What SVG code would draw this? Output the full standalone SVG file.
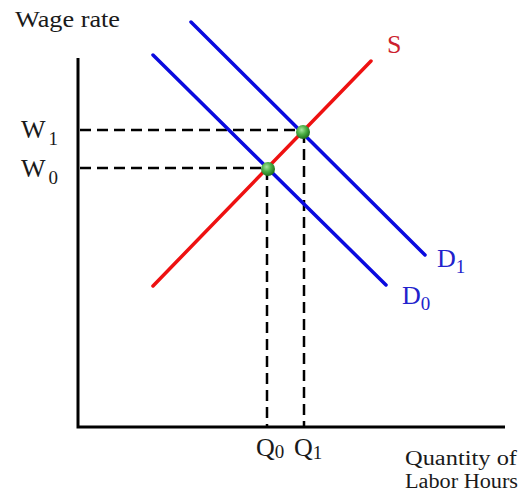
<svg xmlns="http://www.w3.org/2000/svg" width="525" height="494" viewBox="0 0 525 494">
<style>
.t{font-family:"Liberation Serif","Times New Roman",serif;fill:#1a1a1a}
.lb{font-size:26px}
.sub{font-size:19px}
.blue{fill:#2222cc}
.red{fill:#cc1f2f}
.axis{stroke:#000;stroke-width:3;fill:none}
.dash{stroke:#000;stroke-width:2.5;stroke-dasharray:11 6;fill:none}
.sup{stroke:#ee1111;stroke-width:3.5;stroke-linecap:round;fill:none}
.dem{stroke:#0a0adf;stroke-width:3.5;stroke-linecap:round;fill:none}
</style>
<defs>
<radialGradient id="g" cx="40%" cy="35%" r="65%">
<stop offset="0" stop-color="#a8e6a0"/>
<stop offset="0.5" stop-color="#4caf45"/>
<stop offset="1" stop-color="#1f6e1c"/>
</radialGradient>
</defs>
<rect width="525" height="494" fill="#fff"/>
<g id="axes">
<path class="axis" d="M78,58 V427 H505"/>
</g>
<g id="connectors">
<path class="dash" d="M80,130 H303"/>
<path class="dash" d="M80,168 H268"/>
<path class="dash" d="M267,169 V426"/>
<path class="dash" d="M304,132 V426"/>
<path class="sup" d="M153,286 L371,61"/>
<path class="dem" d="M153,55 L386,285"/>
<path class="dem" d="M191,22 L425,255"/>
</g>
<g id="dots">
<circle cx="268" cy="169" r="7" fill="url(#g)"/>
<circle cx="303" cy="132" r="7" fill="url(#g)"/>
</g>
<g id="labels">
<text class="t" x="15" y="27" font-size="23" textLength="105" lengthAdjust="spacingAndGlyphs">Wage rate</text>
<text class="t lb" x="21" y="138">W<tspan class="sub" dx="3" dy="7">1</tspan></text>
<text class="t lb" x="21" y="177">W<tspan class="sub" dx="3" dy="7">0</tspan></text>
<text class="t lb" x="256" y="456">Q<tspan class="sub" dy="2">0</tspan></text>
<text class="t lb" x="294" y="456">Q<tspan class="sub" dy="3">1</tspan></text>
<text class="t" x="405" y="465" font-size="20" textLength="112" lengthAdjust="spacingAndGlyphs">Quantity of</text>
<text class="t" x="405" y="488" font-size="20" textLength="113" lengthAdjust="spacingAndGlyphs">Labor Hours</text>
<text class="t lb red" x="387" y="53">S</text>
<text class="t lb blue" x="437" y="267">D<tspan class="sub" dy="6">1</tspan></text>
<text class="t lb blue" x="402" y="304">D<tspan class="sub" dy="6">0</tspan></text>
</g>
</svg>
